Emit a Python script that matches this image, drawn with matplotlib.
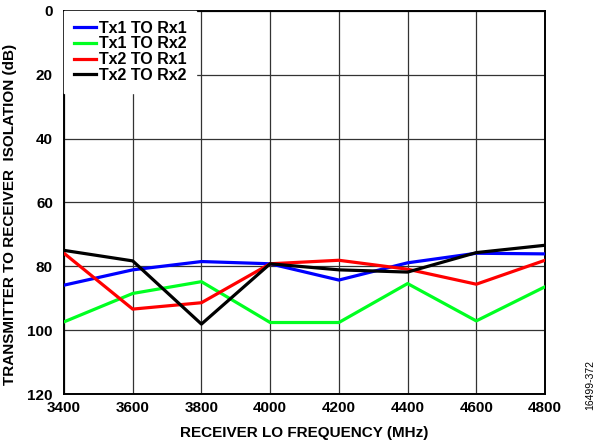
import matplotlib
matplotlib.use("Agg")
import matplotlib.pyplot as plt

plt.rcParams["font.family"] = ["Liberation Sans", "DejaVu Sans"]
plt.rcParams["font.weight"] = "bold"

freq_mhz = [3400, 3600, 3800, 4000, 4200, 4400, 4600, 4800]
tx1_rx1 = [85.9, 81.1, 78.5, 79.2, 84.3, 78.9, 75.9, 76.1]
tx1_rx2 = [97.4, 88.5, 84.8, 97.6, 97.6, 85.4, 97.1, 86.4]
tx2_rx1 = [75.9, 93.4, 91.4, 79.2, 78.1, 80.9, 85.6, 78.1]
tx2_rx2 = [75.0, 78.3, 98.1, 79.2, 81.1, 81.8, 75.7, 73.4]

series = [
    ("Tx1 TO Rx1", tx1_rx1, "#0000ff"),
    ("Tx1 TO Rx2", tx1_rx2, "#00ff21"),
    ("Tx2 TO Rx1", tx2_rx1, "#ff0000"),
    ("Tx2 TO Rx2", tx2_rx2, "#000000"),
]

fig = plt.figure(figsize=(5.97, 4.48), dpi=100)
ax = fig.add_axes([64 / 597, 1 - 394 / 448, (545 - 64) / 597, (394 - 11) / 448])

for label, vals, color in series:
    ax.plot(freq_mhz, vals, color=color, lw=2.3, label=label, zorder=3)

ax.set_xlim(3400, 4800)
ax.set_ylim(120, 0)
ax.set_xticks(freq_mhz)
ax.set_yticks(range(0, 121, 20))
ax.grid(True, color="#333333", lw=0.9, zorder=1)
ax.tick_params(length=0, labelsize=11)
ax.tick_params(axis="x", pad=5)
ax.tick_params(axis="y", pad=8)
for s in ax.spines.values():
    s.set_linewidth(1.4)

ax.set_xlabel("RECEIVER LO FREQUENCY (MHz)", fontsize=11, fontweight="bold", labelpad=8)
ax.set_ylabel("TRANSMITTER TO RECEIVER  ISOLATION (dB)", fontsize=11, fontweight="bold")
ax.yaxis.set_label_coords(-0.098, 0.47)

leg = ax.legend(loc="upper left", frameon=True, fontsize=11.5, handlelength=1.4,
                handletextpad=0.2, labelspacing=0.05, borderaxespad=0.0,
                borderpad=0.6, fancybox=False)
leg.get_frame().set_edgecolor("white")
leg.get_frame().set_alpha(1.0)
leg.set_zorder(5)

fig.text(0.988, 0.085, "16499-372", rotation=90, fontsize=7.5, fontweight="normal",
         ha="center", va="bottom")

fig.savefig("out.png", dpi=100)
